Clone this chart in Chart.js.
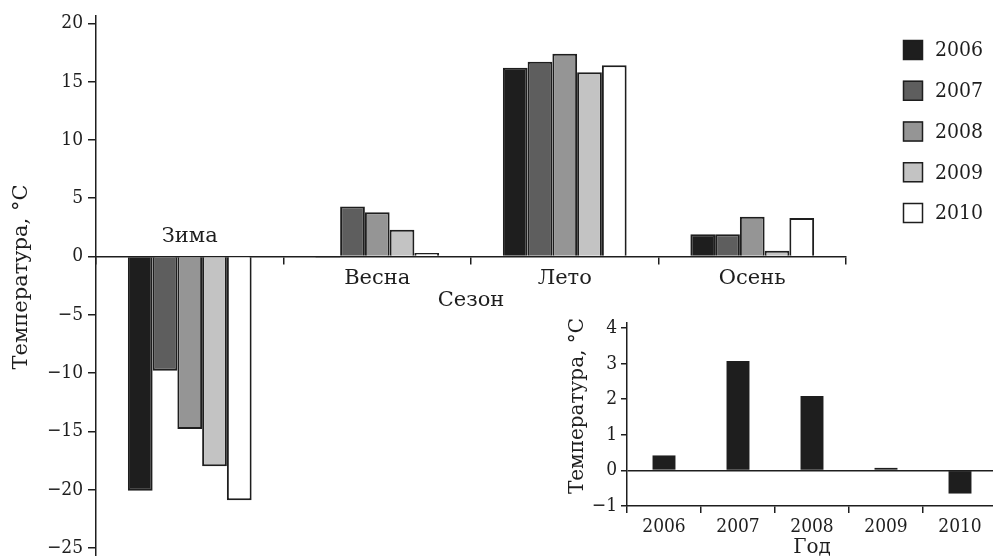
<!DOCTYPE html>
<html>
<head>
<meta charset="utf-8">
<script src="https://cdn.jsdelivr.net/npm/chart.js@4/dist/chart.umd.min.js"></script>
<style>
  html, body { margin: 0; padding: 0; background: #fff; overflow: hidden; width: 993px; height: 556px; }
  #wrap { position: relative; width: 993px; height: 556px; }
  #main { position: absolute; left: 0; top: 0; }
  #inset { position: absolute; left: 560px; top: 300px; }
</style>
</head>
<body>
<div id="wrap">
  <canvas id="main" width="993" height="556"></canvas>
  <canvas id="inset" width="440" height="256"></canvas>
</div>
<script>
// Seasonal temperature by year
const seasons = ['Зима', 'Весна', 'Лето', 'Осень'];
const years = ['2006', '2007', '2008', '2009', '2010'];
const t2006 = [-20.1, -0.1, 16.2, 1.9];
const t2007 = [-9.8, 4.3, 16.7, 1.9];
const t2008 = [-14.8, 3.8, 17.4, 3.4];
const t2009 = [-18.0, 2.3, 15.8, 0.5];
const t2010 = [-20.9, 0.3, 16.4, 3.3];
const mainTicks = [-25, -20, -15, -10, -5, 0, 5, 10, 15, 20];

// Yearly values for the small chart
const insetYears = ['2006', '2007', '2008', '2009', '2010'];
const insetValues = [0.42, 3.07, 2.09, 0.07, -0.65];
const insetTicks = [-1, 0, 1, 2, 3, 4];

const yearFills = ['#1e1e1e', '#5e5e5e', '#959595', '#c3c3c3', '#ffffff'];
const ink = '#1e1e1e';
const serif = '"DejaVu Serif", serif';                                   // words
const digits = '"DejaVu Serif Condensed", "DejaVu Serif", serif';        // numbers
const series = [t2006, t2007, t2008, t2009, t2010];

const fmt = v => (v < 0 ? '\u2212' + Math.abs(v) : String(v));

// Category names, axis titles and legend drawn on top of the main chart
const mainDecor = {
  id: 'mainDecor',
  afterDraw(chart) {
    const ctx = chart.ctx;
    const xs = chart.scales.x, ys = chart.scales.y;
    const y0 = ys.getPixelForValue(0);
    ctx.save();
    ctx.fillStyle = ink;
    ctx.textAlign = 'center';
    ctx.textBaseline = 'middle';
    ctx.font = '21px ' + serif;
    seasons.forEach((name, i) => {
      const top = Math.max(...series.map(s => s[i]));
      const x = xs.getPixelForValue(i);
      ctx.fillText(name, x, top < 0 ? y0 - 20 : y0 + 22);
    });
    ctx.fillText('Сезон', (xs.left + xs.right) / 2, y0 + 44);

    // y axis title
    ctx.save();
    ctx.translate(22, 277);
    ctx.rotate(-Math.PI / 2);
    ctx.font = '21px ' + serif;
    ctx.fillText('Температура, °C', 0, 0);
    ctx.restore();

    // legend
    ctx.textAlign = 'left';
    ctx.font = '21px ' + digits;
    chart.data.datasets.forEach((ds, i) => {
      const cy = 50 + i * 40.75;
      ctx.fillStyle = ds.backgroundColor;
      ctx.fillRect(903, cy - 10, 20, 20);
      ctx.strokeStyle = ink;
      ctx.lineWidth = 1.5;
      ctx.strokeRect(903.5, cy - 9.5, 19, 19);
      ctx.fillStyle = ink;
      ctx.fillText(ds.label, 935, cy + 1);
    });
    ctx.restore();
  }
};

new Chart(document.getElementById('main'), {
  type: 'bar',
  data: {
    labels: seasons,
    datasets: series.map((d, i) => ({
      label: years[i],
      data: d,
      backgroundColor: yearFills[i],
      borderColor: ink,
      borderWidth: 2,
      barPercentage: 1,
      categoryPercentage: 0.66
    }))
  },
  options: {
    responsive: false,
    animation: false,
    devicePixelRatio: 1,
    layout: { padding: { top: 16, right: 147, bottom: 0, left: 0 } },
    plugins: { legend: { display: false }, tooltip: { enabled: false } },
    scales: {
      x: {
        type: 'category',
        position: { y: 0 },
        grid: { drawOnChartArea: false, drawTicks: true, tickLength: 7, tickColor: ink, lineWidth: 1.5, offset: true },
        border: { display: true, color: ink, width: 1.5 },
        ticks: { display: false },
        afterFit(s) { s.paddingLeft = 0; s.paddingRight = 0; }
      },
      y: {
        min: -25.69,
        max: 20.63,
        afterBuildTicks(s) { s.ticks = mainTicks.map(v => ({ value: v })); },
        ticks: { font: { family: digits, size: 19 }, color: ink, padding: 5, callback: fmt },
        grid: { drawOnChartArea: false, tickLength: 8, tickColor: ink, lineWidth: 1.5 },
        border: { color: ink, width: 1.5 },
        afterFit(s) { s.width = 96; s.paddingTop = 0; s.paddingBottom = 0; }
      }
    }
  },
  plugins: [mainDecor]
});

// Axis titles of the small chart
const insetDecor = {
  id: 'insetDecor',
  afterDraw(chart) {
    const ctx = chart.ctx;
    const xs = chart.scales.x;
    ctx.save();
    ctx.fillStyle = ink;
    ctx.textAlign = 'center';
    ctx.textBaseline = 'middle';
    ctx.font = '20px ' + serif;
    ctx.fillText('Год', (xs.left + xs.right) / 2, 248);
    ctx.translate(18, 106);
    ctx.rotate(-Math.PI / 2);
    ctx.fillText('Температура, °C', 0, 0);
    ctx.restore();
  }
};

new Chart(document.getElementById('inset'), {
  type: 'bar',
  data: {
    labels: insetYears,
    datasets: [{
      data: insetValues,
      backgroundColor: '#1e1e1e',
      borderWidth: 0,
      barPercentage: 1,
      categoryPercentage: 0.31
    }]
  },
  options: {
    responsive: false,
    animation: false,
    devicePixelRatio: 1,
    layout: { padding: { top: 23, right: 3, bottom: 0, left: 0 } },
    plugins: { legend: { display: false }, tooltip: { enabled: false } },
    scales: {
      x: {
        grid: { drawOnChartArea: false, tickLength: 7, tickColor: ink, lineWidth: 1.5, offset: true },
        border: { color: ink, width: 1.5 },
        ticks: { font: { family: digits, size: 19 }, color: ink, padding: 3, maxRotation: 0, autoSkip: false },
        afterFit(s) { s.height = 50; s.paddingLeft = 0; s.paddingRight = 0; }
      },
      y: {
        min: -1,
        max: 4.14,
        afterBuildTicks(s) { s.ticks = insetTicks.map(v => ({ value: v })); },
        ticks: { font: { family: digits, size: 19 }, color: ink, padding: 4, callback: fmt },
        grid: {
          color: c => (c.tick && c.tick.value === 0 ? ink : 'rgba(0,0,0,0)'),
          tickColor: ink, tickLength: 6, lineWidth: 1.5
        },
        border: { color: ink, width: 1.5 },
        afterFit(s) { s.width = 67; s.paddingTop = 0; s.paddingBottom = 0; }
      }
    }
  },
  plugins: [insetDecor]
});
</script>
</body>
</html>
